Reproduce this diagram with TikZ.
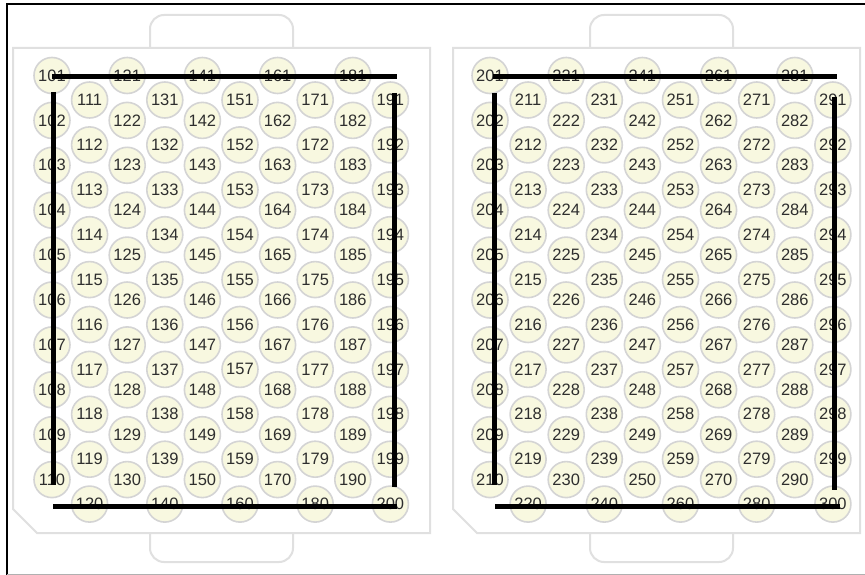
\documentclass[tikz,border=0pt]{standalone}
\usepackage{fontspec}
\setmainfont{Liberation Sans}
\definecolor{wellfill}{HTML}{F8F8E0}
\definecolor{wellrim}{HTML}{D4D4D4}
\definecolor{platerim}{HTML}{E0E0E0}
\definecolor{txt}{HTML}{2E2E2E}
\definecolor{framegray}{HTML}{B0B0B0}
\begin{document}
\begin{tikzpicture}[x=1pt,y=-1pt,
  well/.style={circle,draw=wellrim,fill=wellfill,line width=1.6pt,minimum size=36pt,inner sep=0pt,
    font=\fontsize{16.5}{16.5}\selectfont,text=txt},
  plate/.style={draw=platerim,line width=2pt,fill=white},
  tab/.style={draw=platerim,line width=2pt,rounded corners=14pt},
  bar/.style={line width=5pt,black}]
\useasboundingbox (0,0) rectangle (865,575);
\fill[white] (0,0) rectangle (865,575);
% frame
\draw[line width=1.5pt] (7,575) -- (7,4) -- (865,4);
\draw[framegray,line width=1pt] (7,574) -- (865,574);
% left plate
\draw[tab] (150,48) -- (150,15) -- (293,15) -- (293,48);
\draw[tab] (150,533) -- (150,562) -- (293,562) -- (293,533);
\draw[plate] (13,48) -- (430,48) -- (430,533) -- (37,533) -- (13,509) -- cycle;
% right plate
\draw[tab] (590,48) -- (590,15) -- (733,15) -- (733,48);
\draw[tab] (590,533) -- (590,562) -- (733,562) -- (733,533);
\draw[plate] (453,48) -- (860,48) -- (860,533) -- (477,533) -- (453,509) -- cycle;
% wells
\foreach \c in {0,...,9}{
  \foreach \r in {0,...,9}{
    \pgfmathtruncatemacro{\n}{101+10*\c+\r}
    \pgfmathtruncatemacro{\m}{201+10*\c+\r}
    \pgfmathsetmacro{\yy}{75.5+24.5*mod(\c,2)+44.9*\r}
    \node[well] (w\n) at ({52+37.6*\c},\yy) {\n};
    \node[well] (w\m) at ({490+38.1*\c},\yy) {\m};
  }}
% bars, left plate
\coordinate (a1) at (52,77);  \coordinate (a2) at (397,77);
\coordinate (b1) at (53,92);  \coordinate (b2) at (53,485);
\coordinate (c1) at (53,506); \coordinate (c2) at (397,506);
\coordinate (d1) at (394,93); \coordinate (d2) at (394,487);
\draw[bar] (a1) -- (a2);
\draw[bar] (b1) -- (b2);
\draw[bar] (c1) -- (c2);
\draw[bar] (d1) -- (d2);
% bars, right plate
\coordinate (e1) at (493,77);  \coordinate (e2) at (837,77);
\coordinate (f1) at (494,93);  \coordinate (f2) at (494,485);
\coordinate (g1) at (495,506); \coordinate (g2) at (840,506);
\coordinate (h1) at (834,97);  \coordinate (h2) at (834,490);
\draw[bar] (e1) -- (e2);
\draw[bar] (f1) -- (f2);
\draw[bar] (g1) -- (g2);
\draw[bar] (h1) -- (h2);
\end{tikzpicture}
\end{document}
